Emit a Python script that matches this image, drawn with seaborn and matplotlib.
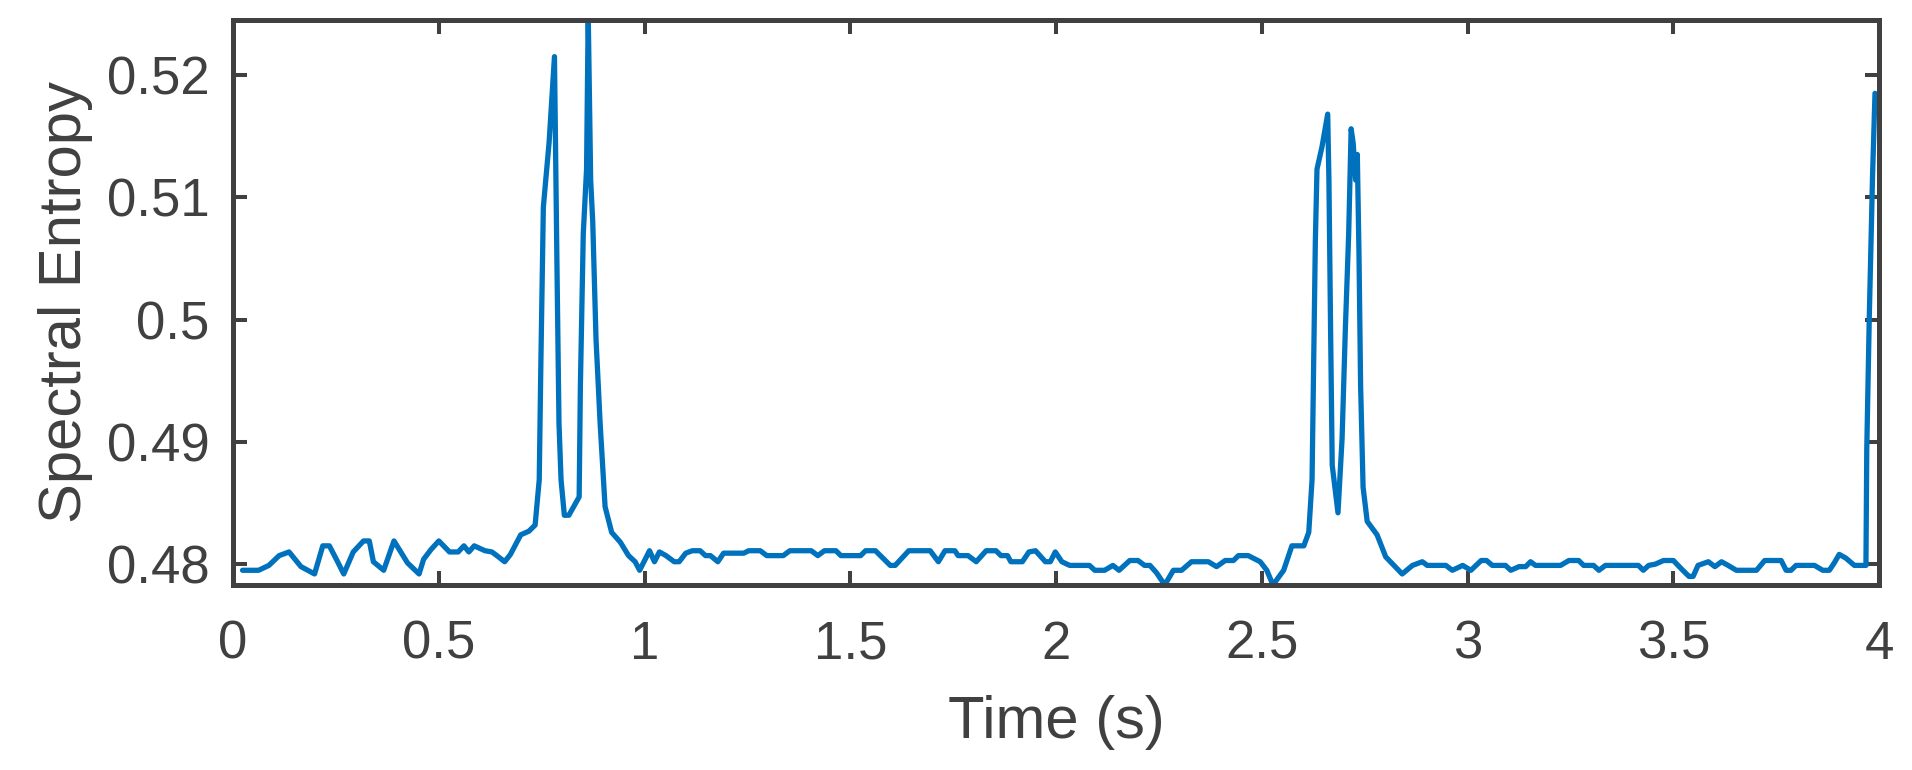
import matplotlib
matplotlib.use("Agg")
import matplotlib.pyplot as plt
import seaborn as sns
import pandas as pd

time_s = [
    0.023, 0.062, 0.087, 0.112, 0.136, 0.165, 0.198, 0.218, 0.234, 0.251,
    0.269, 0.292, 0.317, 0.331, 0.341, 0.366, 0.391, 0.424, 0.452, 0.463,
    0.481, 0.500, 0.526, 0.547, 0.561, 0.573, 0.586, 0.612, 0.629, 0.641,
    0.660, 0.674, 0.699, 0.719, 0.734, 0.744, 0.748, 0.754, 0.768, 0.781,
    0.787, 0.792, 0.797, 0.805, 0.816, 0.841, 0.844, 0.851, 0.859, 0.863,
    0.869, 0.874, 0.882, 0.892, 0.904, 0.920, 0.941, 0.961, 0.977, 0.988,
    1.012, 1.024, 1.036, 1.052, 1.072, 1.084, 1.100, 1.116, 1.135, 1.148,
    1.160, 1.178, 1.192, 1.241, 1.253, 1.281, 1.297, 1.337, 1.353, 1.405,
    1.421, 1.437, 1.465, 1.477, 1.525, 1.537, 1.561, 1.597, 1.609, 1.642,
    1.694, 1.714, 1.730, 1.754, 1.762, 1.786, 1.806, 1.830, 1.854, 1.866,
    1.882, 1.890, 1.918, 1.934, 1.950, 1.974, 1.986, 1.998, 2.014, 2.033,
    2.081, 2.094, 2.118, 2.138, 2.153, 2.179, 2.199, 2.215, 2.228, 2.244,
    2.264, 2.285, 2.305, 2.329, 2.370, 2.390, 2.411, 2.431, 2.443, 2.467,
    2.496, 2.512, 2.527, 2.553, 2.573, 2.602, 2.614, 2.622, 2.626, 2.630,
    2.634, 2.646, 2.660, 2.663, 2.667, 2.671, 2.685, 2.695, 2.703, 2.711,
    2.717, 2.722, 2.728, 2.732, 2.736, 2.740, 2.746, 2.756, 2.780, 2.801,
    2.841, 2.866, 2.890, 2.902, 2.947, 2.963, 2.988, 3.008, 3.033, 3.046,
    3.060, 3.092, 3.105, 3.125, 3.141, 3.153, 3.165, 3.226, 3.246, 3.270,
    3.282, 3.306, 3.319, 3.335, 3.415, 3.427, 3.440, 3.456, 3.476, 3.500,
    3.520, 3.538, 3.548, 3.560, 3.585, 3.601, 3.617, 3.633, 3.653, 3.702,
    3.722, 3.762, 3.774, 3.786, 3.798, 3.843, 3.863, 3.879, 3.891, 3.903,
    3.919, 3.940, 3.956, 3.968, 3.970, 3.976, 3.984, 3.990,
]

spectral_entropy = [
    0.4795, 0.4795, 0.4799, 0.4807, 0.4810, 0.4798, 0.4792, 0.4815, 0.4815, 0.4804,
    0.4792, 0.4810, 0.4819, 0.4819, 0.4802, 0.4795, 0.4819, 0.4801, 0.4792, 0.4804,
    0.4812, 0.4819, 0.4810, 0.4810, 0.4815, 0.4810, 0.4815, 0.4811, 0.4810, 0.4807,
    0.4802, 0.4808, 0.4824, 0.4827, 0.4832, 0.4869, 0.4965, 0.5092, 0.5145, 0.5215,
    0.5046, 0.4915, 0.4869, 0.4840, 0.4840, 0.4855, 0.4946, 0.5070, 0.5123, 0.5250,
    0.5114, 0.5080, 0.4984, 0.4915, 0.4847, 0.4826, 0.4818, 0.4807, 0.4802, 0.4795,
    0.4811, 0.4802, 0.4810, 0.4807, 0.4802, 0.4802, 0.4809, 0.4811, 0.4811, 0.4807,
    0.4807, 0.4802, 0.4809, 0.4809, 0.4811, 0.4811, 0.4807, 0.4807, 0.4811, 0.4811,
    0.4807, 0.4811, 0.4811, 0.4807, 0.4807, 0.4811, 0.4811, 0.4799, 0.4799, 0.4811,
    0.4811, 0.4802, 0.4811, 0.4811, 0.4807, 0.4807, 0.4802, 0.4811, 0.4811, 0.4807,
    0.4807, 0.4802, 0.4802, 0.4810, 0.4811, 0.4802, 0.4802, 0.4810, 0.4802, 0.4799,
    0.4799, 0.4795, 0.4795, 0.4799, 0.4795, 0.4803, 0.4803, 0.4799, 0.4799, 0.4793,
    0.4783, 0.4795, 0.4795, 0.4802, 0.4802, 0.4798, 0.4803, 0.4803, 0.4807, 0.4807,
    0.4802, 0.4795, 0.4783, 0.4795, 0.4815, 0.4815, 0.4826, 0.4869, 0.4965, 0.5064,
    0.5123, 0.5141, 0.5168, 0.5114, 0.4993, 0.4881, 0.4842, 0.4903, 0.4993, 0.5070,
    0.5156, 0.5144, 0.5114, 0.5135, 0.5055, 0.4946, 0.4863, 0.4835, 0.4824, 0.4806,
    0.4792, 0.4799, 0.4802, 0.4799, 0.4799, 0.4795, 0.4799, 0.4795, 0.4803, 0.4803,
    0.4799, 0.4799, 0.4795, 0.4798, 0.4798, 0.4802, 0.4799, 0.4799, 0.4803, 0.4803,
    0.4799, 0.4799, 0.4795, 0.4799, 0.4799, 0.4795, 0.4799, 0.4800, 0.4803, 0.4803,
    0.4796, 0.4790, 0.4790, 0.4799, 0.4802, 0.4798, 0.4802, 0.4799, 0.4795, 0.4795,
    0.4803, 0.4803, 0.4795, 0.4795, 0.4799, 0.4799, 0.4795, 0.4795, 0.4801, 0.4808,
    0.4805, 0.4799, 0.4799, 0.4799, 0.4894, 0.5000, 0.5117, 0.5185,
]

x_ticks = [0, 0.5, 1, 1.5, 2, 2.5, 3, 3.5, 4]
x_tick_labels = ["0", "0.5", "1", "1.5", "2", "2.5", "3", "3.5", "4"]
y_ticks = [0.48, 0.49, 0.50, 0.51, 0.52]
y_tick_labels = ["0.48", "0.49", "0.5", "0.51", "0.52"]

df = pd.DataFrame({"Time (s)": time_s, "Spectral Entropy": spectral_entropy})

sns.set_theme(style="white")
plt.rcParams["font.family"] = ["Liberation Sans", "DejaVu Sans"]

axis_color = "#404040"
fig = plt.figure(figsize=(19.12, 7.70), dpi=100)
ax = fig.add_axes([0.1219, 0.2403, 0.8609, 0.7338])

sns.lineplot(data=df, x="Time (s)", y="Spectral Entropy", ax=ax,
             color="#0072BD", linewidth=3.8, sort=False, estimator=None)

ax.set_xlim(0, 4)
ax.set_ylim(0.4783, 0.5245)
ax.set_xticks(x_ticks)
ax.set_xticklabels(x_tick_labels)
ax.set_yticks(y_ticks)
ax.set_yticklabels(y_tick_labels)

for s in ax.spines.values():
    s.set_visible(True)
    s.set_color(axis_color)
    s.set_linewidth(3.6)

ax.tick_params(axis="both", which="both", direction="in", length=10, width=2.9,
               color=axis_color, labelcolor=axis_color, labelsize=38,
               top=True, right=True, bottom=True, left=True)
ax.tick_params(axis="x", pad=25)
ax.tick_params(axis="y", pad=17)
ax.set_xlabel("Time (s)", fontsize=43, color=axis_color, labelpad=18)
ax.set_ylabel("Spectral Entropy", fontsize=43, color=axis_color, labelpad=10)

fig.savefig("out.png", dpi=100, facecolor="white")
